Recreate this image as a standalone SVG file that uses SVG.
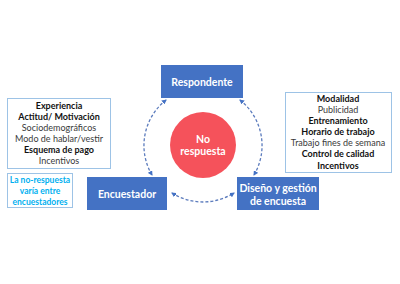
<svg xmlns="http://www.w3.org/2000/svg" width="400" height="284" viewBox="0 0 400 284">
<style>
text{font-family:Lato,"Open Sans","Liberation Sans",sans-serif;text-anchor:middle}
.box{fill:#4472c4}
.bt{fill:#fff;font-weight:bold;font-size:10.5px}
.lt{font-size:9px;fill:#3a3a3a}
.b{font-weight:bold;fill:#111}
.frame{fill:#fff;stroke:#9dc3e6;stroke-width:1}
.blue{fill:#00b0f0;font-size:8.5px;font-weight:bold}
.arc{fill:none;stroke:#5b7bbd;stroke-width:1.3;stroke-dasharray:3 2;marker-start:url(#ah);marker-end:url(#ah)}
</style>
<defs>
<marker id="ah" viewBox="0 0 10 10" refX="8" refY="5" markerWidth="5" markerHeight="5" orient="auto-start-reverse" markerUnits="userSpaceOnUse">
<path d="M0,0 L10,5 L0,10 z" fill="#4472c4"/>
</marker>
</defs>
<rect width="400" height="284" fill="#fff"/>
<g id="connectors">
<path class="arc" d="M166,100 A58,58 0 0 0 152,175"/>
<path class="arc" d="M240,100 A58,58 0 0 1 254,175"/>
<path class="arc" d="M172,193 A58,58 0 0 0 234,193"/>
</g>
<g id="respondente">
<rect class="box" x="161" y="65" width="82" height="33"/>
<text class="bt" x="202" y="86">Respondente</text>
</g>
<g id="no-respuesta">
<circle cx="203" cy="145" r="33" fill="#f5525b"/>
<text class="bt" x="203" y="143">No</text>
<text class="bt" x="203" y="155">respuesta</text>
</g>
<g id="encuestador">
<rect class="box" x="87" y="177" width="80" height="33"/>
<text class="bt" x="127" y="198">Encuestador</text>
</g>
<g id="diseno">
<rect class="box" x="237" y="177" width="82" height="33"/>
<text class="bt" x="278" y="192">Diseño y gestión</text>
<text class="bt" x="278" y="205">de encuesta</text>
</g>
<g id="factores-encuestador">
<rect class="frame" x="7.5" y="98.5" width="103" height="70"/>
<text class="lt b" x="59" y="109">Experiencia</text>
<text class="lt b" x="59" y="120">Actitud/ Motivación</text>
<text class="lt" x="59" y="131">Sociodemográficos</text>
<text class="lt" x="59" y="142">Modo de hablar/vestir</text>
<text class="lt b" x="59" y="153">Esquema de pago</text>
<text class="lt" x="59" y="164">Incentivos</text>
</g>
<g id="nota">
<rect class="frame" x="7.5" y="173.5" width="65" height="34"/>
<text class="blue" x="40" y="183">La no-respuesta</text>
<text class="blue" x="40" y="194">varía entre</text>
<text class="blue" x="40" y="205">encuestadores</text>
</g>
<g id="factores-diseno">
<rect class="frame" x="285.5" y="92.5" width="106" height="80"/>
<text class="lt b" x="338" y="102">Modalidad</text>
<text class="lt" x="338" y="113">Publicidad</text>
<text class="lt b" x="338" y="124">Entrenamiento</text>
<text class="lt b" x="338" y="135">Horario de trabajo</text>
<text class="lt" x="338" y="146">Trabajo fines de semana</text>
<text class="lt b" x="338" y="157">Control de calidad</text>
<text class="lt b" x="338" y="169">Incentivos</text>
</g>
</svg>
